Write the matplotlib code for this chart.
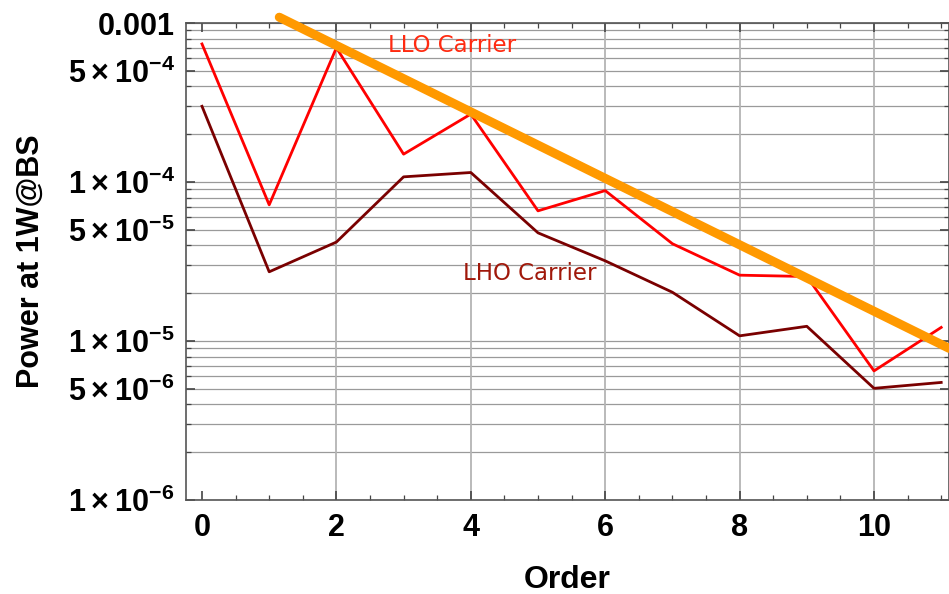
import matplotlib
matplotlib.use("Agg")
import matplotlib.pyplot as plt
from matplotlib.ticker import FixedLocator, MultipleLocator, NullFormatter
import numpy as np

# data
order = [0, 1, 2, 3, 4, 5, 6, 7, 8, 9, 10, 11]
llo = [7.4e-4, 7.2e-5, 7.0e-4, 1.5e-4, 2.68e-4, 6.6e-5, 8.85e-5, 4.1e-5, 2.6e-5, 2.55e-5, 6.5e-6, 1.22e-5]
lho = [3.0e-4, 2.73e-5, 4.2e-5, 1.08e-4, 1.15e-4, 4.8e-5, 3.2e-5, 2.03e-5, 1.08e-5, 1.24e-5, 5.05e-6, 5.5e-6]
fit_x = [1.15, 11.12]
fit_y = [1.09e-3, 9.0e-6]

ytick_vals = [1e-6, 5e-6, 1e-5, 5e-5, 1e-4, 5e-4, 1e-3]
ytick_labels = [r"$\mathbf{1\times10^{-6}}$", r"$\mathbf{5\times10^{-6}}$",
                r"$\mathbf{1\times10^{-5}}$", r"$\mathbf{5\times10^{-5}}$",
                r"$\mathbf{1\times10^{-4}}$", r"$\mathbf{5\times10^{-4}}$",
                r"$\mathbf{0.001}$"]
xgrid = [2, 4, 6, 8, 10]

plt.rcParams["font.family"] = ["Liberation Sans", "DejaVu Sans"]
plt.rcParams["mathtext.fontset"] = "custom"
plt.rcParams["mathtext.rm"] = "Liberation Sans"
plt.rcParams["mathtext.bf"] = "Liberation Sans:bold"

fig = plt.figure(figsize=(9.49, 5.94), dpi=100)
ax = fig.add_axes([0.196, 0.158, 0.804, 0.803])

ax.set_yscale("log")
ax.set_ylim(1e-6, 1e-3)
ax.set_xlim(-0.238, 11.116)

# grid
minor_y = [m * 10.0 ** k for k in range(-6, -2) for m in range(1, 10)]
for v in minor_y:
    ax.axhline(v, color="#9a9a9a", lw=0.9, zorder=0)
for v in xgrid:
    ax.axvline(v, color="#b4b4b4", lw=1.3, zorder=0)

ax.plot(order, lho, color="#7a0000", lw=2, zorder=2)
ax.plot(order, llo, color="#ff0000", lw=2, zorder=3)
ax.plot(fit_x, fit_y, color="#ff9900", lw=6.5, solid_capstyle="round", zorder=4, clip_on=False)

# labels placed in pixel coords (y measured from the top)
ax.text(452, 594 - 46, "LLO Carrier", transform=None, color="#ff2a10", fontsize=16.5,
        family="DejaVu Sans", ha="center", va="center")
ax.text(530, 594 - 273, "LHO Carrier", transform=None, color="#a0180a", fontsize=16.5,
        family="DejaVu Sans", ha="center", va="center")

ax.yaxis.set_major_locator(FixedLocator(ytick_vals))
ax.yaxis.set_major_formatter(plt.FixedFormatter(ytick_labels))
ax.yaxis.set_minor_locator(FixedLocator(minor_y))
ax.yaxis.set_minor_formatter(NullFormatter())
ax.xaxis.set_major_locator(MultipleLocator(2))
ax.xaxis.set_minor_locator(MultipleLocator(0.5))

ax.tick_params(which="major", direction="in", length=6.5, width=1.2, color="#444444",
               top=True, right=True, labelsize=22, pad=8)
ax.tick_params(axis="x", which="major", pad=9)
ax.tick_params(which="minor", direction="in", length=3.5, width=0.9, color="#444444",
               top=True, right=True)
for lab in ax.get_xticklabels():
    lab.set_fontweight("bold")

for s in ax.spines.values():
    s.set_color("#555555")
    s.set_linewidth(1.2)

ax.set_xlabel("Order", fontsize=23, fontweight="bold", labelpad=16)
ax.set_ylabel("Power at 1W@BS", fontsize=22, fontweight="bold", labelpad=16)

fig.savefig("out.png", dpi=100)
